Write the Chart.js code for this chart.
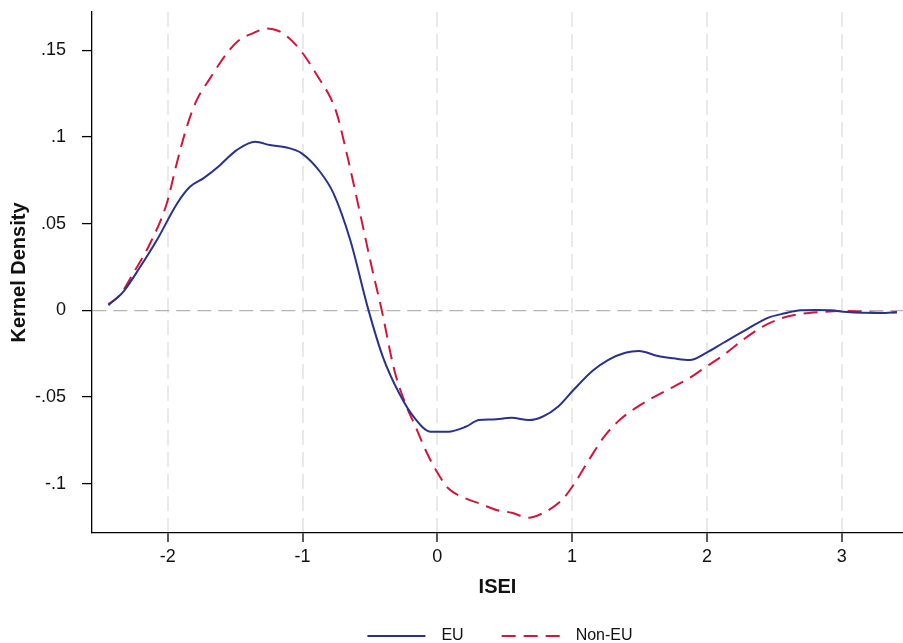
<!DOCTYPE html>
<html>
<head>
<meta charset="utf-8">
<title>Kernel Density ISEI</title>
<script src="https://cdn.jsdelivr.net/npm/chart.js@4.4.1/dist/chart.umd.min.js"></script>
<style>
  body { margin: 0; background: #fff; }
  canvas { display: block; }
</style>
</head>
<body>
<canvas id="chartDensity" width="903" height="643"></canvas>
<script>
// values
const euX = [-2.44, -2.33, -2.205, -2.08, -1.93, -1.835, -1.736, -1.612, -1.56, -1.488, -1.352, -1.241, -1.117, -1.006, -0.87, -0.77, -0.646, -0.51, -0.404, -0.276, -0.176, -0.047, 0.081, 0.21, 0.31, 0.41, 0.552, 0.68, 0.78, 0.895, 1.01, 1.152, 1.266, 1.395, 1.495, 1.637, 1.752, 1.872, 1.995, 2.123, 2.295, 2.452, 2.58, 2.695, 2.81, 2.92, 3.04, 3.29, 3.41]
const euY = [0.003, 0.0107, 0.025, 0.0406, 0.0617, 0.0713, 0.0762, 0.0838, 0.0877, 0.0925, 0.0973, 0.0954, 0.094, 0.0906, 0.080, 0.0675, 0.0406, 0, -0.0268, -0.0489, -0.0614, -0.070, -0.0700, -0.0672, -0.0633, -0.063, -0.062, -0.0633, -0.0614, -0.0556, -0.046, -0.0349, -0.0287, -0.0245, -0.0235, -0.0264, -0.0277, -0.0287, -0.0245, -0.0187, -0.011, -0.0043, -0.0017, 0, 0.0002, 0, -0.001, -0.0015, -0.001]

const nonEuX = [-2.44, -2.355, -2.256, -2.13, -2.007, -1.933, -1.858, -1.785, -1.686, -1.562, -1.476, -1.365, -1.266, -1.192, -1.117, -1.006, -0.87, -0.796, -0.746, -0.672, -0.573, -0.487, -0.412, -0.319, -0.233, -0.162, -0.076, -0.004, 0.081, 0.21, 0.324, 0.438, 0.552, 0.675, 0.781, 0.924, 1.01, 1.124, 1.238, 1.352, 1.467, 1.61, 1.752, 1.867, 1.995, 2.123, 2.266, 2.41, 2.552, 2.695, 2.838, 2.98, 3.123, 3.294, 3.41]
const nonEuY = [0.0036, 0.0088, 0.0213, 0.0387, 0.0617, 0.0848, 0.106, 0.1213, 0.1339, 0.1483, 0.1556, 0.160, 0.1627, 0.1617, 0.1583, 0.1492, 0.1329, 0.1233, 0.1137, 0.0906, 0.056, 0.0252, 0, -0.0344, -0.0546, -0.067, -0.0825, -0.093, -0.1027, -0.1085, -0.1118, -0.1152, -0.1168, -0.1197, -0.1171, -0.1095, -0.1008, -0.0864, -0.0729, -0.0633, -0.0566, -0.0499, -0.0441, -0.0392, -0.0325, -0.0258, -0.0171, -0.0095, -0.0046, -0.0021, -0.001, -0.0004, -0.0006, -0.0014, -0.0012]

const xTicks = [-2, -1, 0, 1, 2, 3]
const yTicks = [-0.1, -0.05, 0, 0.05, 0.1, 0.15]
const yTickLabels = ['-.1', '-.05', '0', '.05', '.1', '.15']

const FONT = "'Liberation Sans', Arial, Helvetica, sans-serif"
const toPoints = (xs, ys) => xs.map((x, i) => ({ x: x, y: ys[i] }))

// legend drawn by hand: line sample + label, centred under the plot
const bottomLegend = {
    id: 'bottomLegend',
    afterDraw(chart) {
        const ctx = chart.ctx
        const y = 636
        const sample = 58
        ctx.save()
        ctx.font = '16px ' + FONT
        ctx.textBaseline = 'middle'
        const items = chart.data.datasets.map(ds => ({ ds, w: ctx.measureText(ds.label).width }))
        const total = items.reduce((s, it) => s + sample + 16 + it.w, 0) + 38 * (items.length - 1)
        let x = 500 - total / 2
        items.forEach(it => {
            ctx.strokeStyle = it.ds.borderColor
            ctx.lineWidth = it.ds.borderWidth
            ctx.setLineDash(it.ds.borderDash || [])
            ctx.beginPath()
            ctx.moveTo(x, y)
            ctx.lineTo(x + sample, y)
            ctx.stroke()
            ctx.setLineDash([])
            ctx.fillStyle = '#111'
            ctx.fillText(it.ds.label, x + sample + 16, y)
            x += sample + 16 + it.w + 38
        })
        ctx.restore()
    }
}

const chartDensity = new Chart(document.getElementById('chartDensity'), {
    type: 'line',
    data: {
        datasets: [
            {
                label: 'EU',
                data: toPoints(euX, euY),
                borderColor: '#28328c',
                borderWidth: 2,
                pointRadius: 0,
                fill: false,
                cubicInterpolationMode: 'monotone'
            },
            {
                label: 'Non-EU',
                data: toPoints(nonEuX, nonEuY),
                borderColor: '#d0173b',
                borderWidth: 2,
                borderDash: [14, 8],
                pointRadius: 0,
                fill: false,
                cubicInterpolationMode: 'monotone'
            }
        ]
    },
    options: {
        responsive: false,
        animation: false,
        devicePixelRatio: 1,
        layout: { padding: { top: 12, right: 0, bottom: 0, left: 0 } },
        plugins: {
            legend: { display: false },
            tooltip: { enabled: false }
        },
        scales: {
            x: {
                type: 'linear',
                min: -2.5616,
                max: 3.4547,
                afterBuildTicks: scale => { scale.ticks = xTicks.map(v => ({ value: v })) },
                afterFit: scale => {
                    scale.height = 110
                    scale.paddingLeft = 0
                    scale.paddingRight = 0
                },
                ticks: {
                    color: '#111',
                    font: { family: FONT, size: 18 },
                    padding: 4,
                    maxRotation: 0,
                    callback: v => String(v)
                },
                grid: {
                    color: '#e9e9e9',
                    lineWidth: 2,
                    tickColor: '#000',
                    tickLength: 9,
                    tickWidth: 1.3
                },
                border: { color: '#000', width: 1.3, dash: [15, 7] },
                title: {
                    display: true,
                    text: 'ISEI',
                    color: '#111',
                    font: { family: FONT, size: 20, weight: 'bold' },
                    padding: { top: 0, bottom: 44 }
                }
            },
            y: {
                min: -0.1285,
                max: 0.1722,
                afterBuildTicks: scale => { scale.ticks = yTicks.map(v => ({ value: v })) },
                afterFit: scale => {
                    scale.width = 92
                    scale.paddingTop = 0
                    scale.paddingBottom = 0
                },
                ticks: {
                    color: '#111',
                    font: { family: FONT, size: 18 },
                    padding: 16,
                    callback: (v, i) => yTickLabels[i]
                },
                grid: {
                    color: ctx => (ctx.tick && ctx.tick.value === 0 ? '#b4b4b4' : 'rgba(0,0,0,0)'),
                    lineWidth: 1.2,
                    tickColor: '#000',
                    tickLength: 10,
                    tickWidth: 1.3
                },
                border: { color: '#000', width: 1.3, dash: [14, 7] },
                title: {
                    display: true,
                    text: 'Kernel Density',
                    color: '#111',
                    font: { family: FONT, size: 20, weight: 'bold' },
                    padding: { top: 7.5, bottom: 0 }
                }
            }
        }
    },
    plugins: [bottomLegend]
})
</script>
</body>
</html>
